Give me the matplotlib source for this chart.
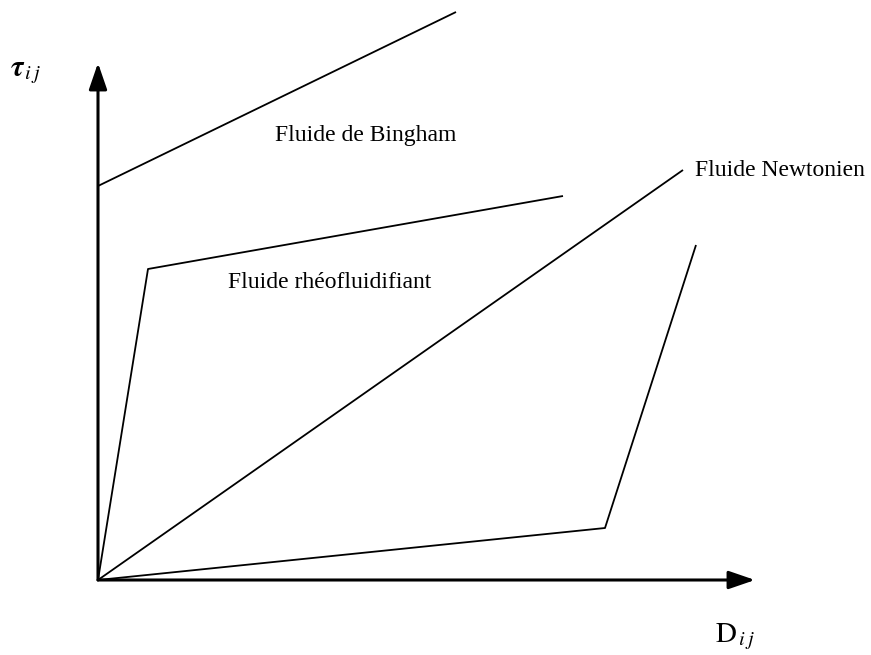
import matplotlib
matplotlib.use("Agg")
import matplotlib.pyplot as plt

plt.rcParams['font.family'] = ['Liberation Serif', 'DejaVu Serif']
plt.rcParams['mathtext.fontset'] = 'stix'

# curves (shear rate D, stress tau), origin at bottom-left corner of the axes
bingham_x = [0, 358]
bingham_y = [394, 568]
rheo_x = [0, 50, 465]
rheo_y = [0, 311, 384]
newton_x = [0, 585]
newton_y = [0, 410]
dilat_x = [0, 507, 598]
dilat_y = [0, 52, 335]

labels = ['Fluide de Bingham', 'Fluide rhéofluidifiant', 'Fluide Newtonien']
label_pos = [(177, 444), (130, 298), (597, 410)]

fig = plt.figure(figsize=(8.71, 6.55), dpi=100)
ax = fig.add_axes([0, 0, 1, 1])
ax.set_xlim(-98, 773)
ax.set_ylim(-75, 580)
ax.axis('off')

for xs, ys in [(bingham_x, bingham_y), (rheo_x, rheo_y),
               (newton_x, newton_y), (dilat_x, dilat_y)]:
    ax.plot(xs, ys, color='black', lw=1.3, solid_capstyle='butt')

# axes with arrows
ax.annotate('', xy=(0, 517), xytext=(0, 0),
            arrowprops=dict(arrowstyle='-|>,head_length=1.6,head_width=0.55',
                            color='black', lw=2.2, shrinkA=0, shrinkB=0))
ax.annotate('', xy=(657, 0), xytext=(0, 0),
            arrowprops=dict(arrowstyle='-|>,head_length=1.6,head_width=0.55',
                            color='black', lw=2.2, shrinkA=0, shrinkB=0))

for txt, (x, y) in zip(labels, label_pos):
    ax.text(x, y, txt, fontsize=17, ha='left', va='center')

ax.text(-73, 507, r'$\boldsymbol{\tau}_{\,i\,j}$', fontsize=21,
        ha='center', va='center')
ax.text(637, -57, r'$\mathrm{D}_{\,i\,j}$', fontsize=21,
        ha='center', va='center')

fig.savefig('out.png', dpi=100)
